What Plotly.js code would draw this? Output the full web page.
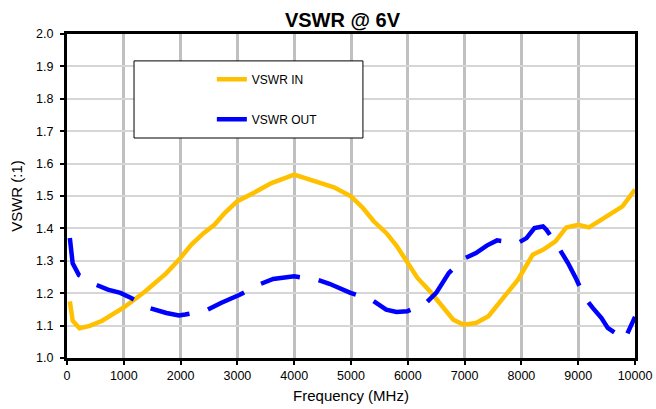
<!DOCTYPE html>
<html>
<head>
<meta charset="utf-8">
<script src="https://cdn.plot.ly/plotly-3.0.1.min.js"></script>
<style>html,body{margin:0;padding:0;background:#fff;}#chart{width:656px;height:409px;}</style>
</head>
<body>
<div id="chart"></div>
<script>
// VSWR IN (yellow, solid)
var inFreq = [50, 100, 220, 400, 620, 1000, 1380, 1750, 1970, 2190, 2410, 2600, 2780, 3000, 3300, 3600, 4000, 4400, 4700, 5000, 5210, 5400, 5620, 5800, 5990, 6170, 6390, 6610, 6800, 6980, 7200, 7420, 7640, 7940, 8200, 8380, 8600, 8790, 9000, 9190, 9410, 9780, 10000];
var inVswr = [1.175, 1.115, 1.092, 1.099, 1.115, 1.156, 1.206, 1.262, 1.303, 1.350, 1.386, 1.412, 1.448, 1.484, 1.511, 1.540, 1.566, 1.542, 1.527, 1.499, 1.463, 1.422, 1.386, 1.347, 1.293, 1.247, 1.206, 1.159, 1.118, 1.103, 1.108, 1.129, 1.175, 1.242, 1.319, 1.334, 1.360, 1.403, 1.411, 1.403, 1.427, 1.468, 1.520];

// VSWR OUT (blue, dashed)
var outFreq = [50, 100, 210, 515, 720, 940, 1130, 1460, 1750, 1970, 2080, 2450, 2710, 3040, 3370, 3630, 4000, 4400, 4620, 4990, 5360, 5620, 5800, 5990, 6320, 6500, 6720, 6980, 7200, 7390, 7570, 7940, 8090, 8230, 8380, 8440, 8640, 8820, 8970, 9120, 9260, 9410, 9520, 9820, 10000];
var outVswr = [1.370, 1.292, 1.256, 1.226, 1.211, 1.201, 1.185, 1.154, 1.139, 1.131, 1.134, 1.147, 1.170, 1.195, 1.226, 1.244, 1.252, 1.242, 1.229, 1.201, 1.180, 1.149, 1.142, 1.144, 1.170, 1.201, 1.262, 1.306, 1.324, 1.347, 1.363, 1.355, 1.370, 1.401, 1.406, 1.396, 1.345, 1.293, 1.242, 1.185, 1.154, 1.123, 1.093, 1.058, 1.127];

var seriesNames = ['VSWR IN', 'VSWR OUT'];
var xTickVals = [0, 1000, 2000, 3000, 4000, 5000, 6000, 7000, 8000, 9000, 10000];
var yTickVals = [1.0, 1.1, 1.2, 1.3, 1.4, 1.5, 1.6, 1.7, 1.8, 1.9, 2.0];

var FONT = 'Arial, "Liberation Sans", sans-serif';

var traces = [
  {x: inFreq, y: inVswr, name: seriesNames[0], type: 'scatter', mode: 'lines',
   legendgroup: 'a', line: {color: '#FFC000', width: 4.5}},
  {x: outFreq, y: outVswr, name: seriesNames[1], type: 'scatter', mode: 'lines',
   legendgroup: 'b', line: {color: '#0000FF', width: 4.5, dash: '40px,19px'}}
];

var layout = {
  width: 656, height: 409,
  margin: {l: 67, r: 21, t: 34, b: 51},
  paper_bgcolor: '#fff', plot_bgcolor: '#fff',
  font: {family: FONT, color: '#000', size: 12},
  title: {text: '<b>VSWR @ 6V</b>', font: {family: FONT, size: 20, color: '#000'},
          x: 0.522, xanchor: 'center', y: 0.952, yanchor: 'middle', yref: 'container'},
  xaxis: {
    range: [0, 10000], tickvals: xTickVals, ticktext: xTickVals.map(String),
    showgrid: true, gridcolor: '#c0c0c0', gridwidth: 3,
    zeroline: false, showline: true, linecolor: '#000', linewidth: 3, mirror: true,
    ticks: 'outside', ticklen: 4, tickwidth: 2, tickcolor: '#000',
    tickfont: {family: FONT, size: 12.5, color: '#000'},
    title: {text: 'Frequency (MHz)', font: {family: FONT, size: 15, color: '#000'}, standoff: 9}
  },
  yaxis: {
    range: [1, 2], tickvals: yTickVals, tickformat: '.1f',
    showgrid: true, gridcolor: '#d6d6d6', gridwidth: 2,
    zeroline: false, showline: true, linecolor: '#000', linewidth: 3, mirror: true,
    ticks: 'outside', ticklen: 4, tickwidth: 2, tickcolor: '#000',
    ticklabelstandoff: 4,
    tickfont: {family: FONT, size: 12.5, color: '#000'},
    title: {text: 'VSWR (:1)', font: {family: FONT, size: 15, color: '#000'}, standoff: 10}
  },
  showlegend: true,
  legend: {
    x: 0.255, y: 0.905, xanchor: 'left', yanchor: 'top',
    bgcolor: 'rgba(0,0,0,0)', borderwidth: 0,
    font: {family: FONT, size: 12, color: '#000'},
    tracegroupgap: 21, traceorder: 'grouped'
  },
  shapes: [
    {type: 'rect', xref: 'paper', yref: 'paper', x0: 0.118, x1: 0.521, y0: 0.679, y1: 0.917,
     line: {color: '#000', width: 1}, fillcolor: '#fff', layer: 'above'}
  ]
};

Plotly.newPlot('chart', traces, layout, {staticPlot: true, displayModeBar: false});
</script>
</body>
</html>
